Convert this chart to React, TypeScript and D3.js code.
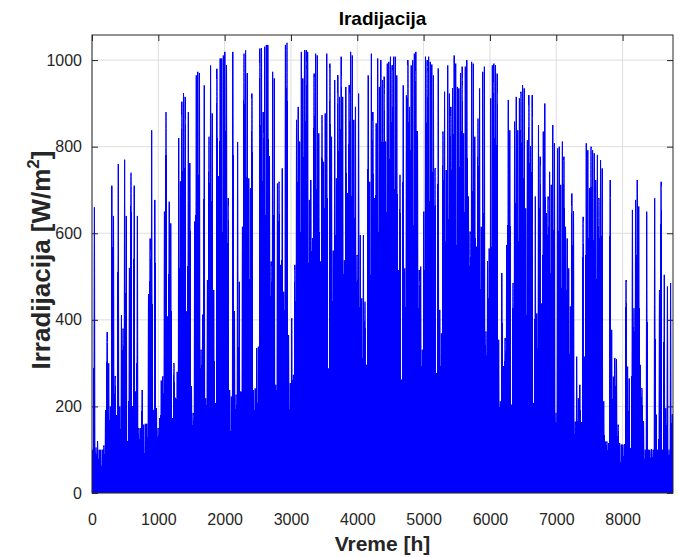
import React, { useEffect, useRef } from 'react';
import * as d3 from 'd3';

// daily peak irradiance [W/m2], one value per day (365 days)
const peaksJanFeb: number[] = [
  100, 660, 105, 120, 100, 100, 100, 110, 190, 372, 300, 200, 710, 640, 270, 180, 760, 200, 410, 380,
  770, 640, 120, 520, 740, 200, 710, 235, 640,
  150, 150, 238, 158, 160, 160, 458, 588, 838, 192, 677, 196, 150, 173, 260, 270, 650, 880, 408, 673,
  623, 173, 300, 220, 280, 820, 720, 904, 923, 915, 420,
];
const peaksMarApr: number[] = [
  880, 762, 246, 185, 627, 965, 973, 970, 331, 412, 942, 219, 492, 823, 988, 877, 469, 208, 980, 731,
  1004, 1004, 1011, 1019, 988, 681, 238, 223, 1019, 420,
  227, 811, 488, 235, 615, 1015, 1023, 970, 727, 704, 923, 238, 242, 335, 338, 1027, 1027, 880, 1031, 1035,
  1035, 777, 535, 973, 958, 250, 715, 719, 527, 750, 465,
];
const peaksMayJun: number[] = [
  1035, 1040, 365, 254, 404, 273, 527, 862, 892, 812, 1019, 958, 1023, 1023, 1019, 677, 723, 588, 969, 1015,
  1011, 831, 535, 873, 765, 877, 1015, 288, 992, 823, 560,
  954, 727, 965, 915, 1008, 915, 538, 938, 692, 942, 1019, 1011, 862, 892, 550, 923, 596, 450, 596, 442,
  296, 965, 719, 1015, 880, 681, 854, 1004, 938, 1000, 954,
];
const peaksJulAug: number[] = [
  962, 812, 992, 996, 1008, 988, 1008, 1008, 965, 515, 735, 262, 942, 519, 919, 1000, 892, 988, 1000, 1015,
  1019, 835, 515, 523, 331, 650, 1008, 1000, 1008, 996, 990,
  965, 750, 277, 981, 423, 369, 835, 927, 746, 988, 923, 892, 935, 1011, 992, 938, 935, 969, 985, 831,
  985, 1000, 685, 604, 996, 992, 823, 569, 865, 935, 615,
];
const peaksSepOct: number[] = [
  973, 985, 373, 535, 565, 912, 988, 992, 988, 969, 354, 212, 508, 292, 358, 573, 908, 838, 204, 485,
  858, 915, 838, 912, 927, 942, 935, 658, 815, 919, 800,
  919, 208, 685, 415, 850, 777, 438, 835, 900, 646, 685, 742, 712, 850, 808, 185, 796, 800, 712, 812,
  777, 615, 588, 519, 431, 692, 650, 165, 315, 219, 250,
];
const peaksNovDec: number[] = [
  162, 638, 315, 808, 792, 704, 800, 792, 785, 723, 781, 681, 769, 750, 212, 119, 119, 115, 723, 377,
  269, 312, 308, 158, 115, 112, 112, 112, 492, 292, 265,
  104, 654, 427, 677, 723, 662, 296, 242, 165, 100, 650, 100, 100, 100, 100, 681, 181, 100, 469, 719,
  100, 504, 196, 477, 100, 485, 181,
];

const xTicks = [0, 1000, 2000, 3000, 4000, 5000, 6000, 7000, 8000];
const yTicks = [0, 200, 400, 600, 800, 1000];

const axisColor = '#262626';

export default function App() {
  const ref = useRef<SVGSVGElement>(null);

  useEffect(() => {
    document.body.style.margin = '0';
    const root = d3.select(ref.current);
    root.selectAll('*').remove();

    const margin = { top: 35, right: 6, bottom: 64, left: 92 };
    const width = 679 - margin.left - margin.right;
    const height = 557 - margin.top - margin.bottom;

    const peaks = [...peaksJanFeb, ...peaksMarApr, ...peaksMayJun, ...peaksJulAug, ...peaksSepOct, ...peaksNovDec];
    // one hump per day, peak at noon
    const points: [number, number][] = [];
    peaks.forEach((p, d) => {
      points.push([d * 24 + 2, 0], [d * 24 + 12, p], [d * 24 + 22, 0]);
    });

    const x = d3.scaleLinear().domain([0, 8760]).range([0, width]);
    const y = d3.scaleLinear().domain([0, 1058]).range([height, 0]);

    const svg = root.append('g').attr('transform', `translate(${margin.left},${margin.top})`);

    svg.append('rect').attr('width', width).attr('height', height).attr('fill', '#fff');

    // grid
    svg.append('g').selectAll('line').data(xTicks).enter().append('line')
      .attr('x1', d => x(d)).attr('x2', d => x(d)).attr('y1', 0).attr('y2', height)
      .attr('stroke', '#dedede').attr('stroke-width', 1);
    svg.append('g').selectAll('line').data(yTicks).enter().append('line')
      .attr('x1', 0).attr('x2', width).attr('y1', d => y(d)).attr('y2', d => y(d))
      .attr('stroke', '#dedede').attr('stroke-width', 1);

    const fontFamily = "'Liberation Sans', Arial, Helvetica, sans-serif";

    const styleAxis = (g: any) => {
      g.select('.domain').remove();
      g.selectAll('line').attr('stroke', axisColor);
      g.selectAll('text').attr('fill', axisColor).style('font-family', fontFamily).style('font-size', '16px');
    };

    const fmt = d3.format('d');

    svg.append('g').attr('transform', `translate(0,${height})`)
      .call(d3.axisBottom(x).tickValues(xTicks).tickFormat(d => fmt(+d)).tickSizeInner(-6).tickSizeOuter(0).tickPadding(21))
      .call(styleAxis);
    svg.append('g')
      .call(d3.axisLeft(y).tickValues(yTicks).tickFormat(d => fmt(+d)).tickSizeInner(-6).tickSizeOuter(0).tickPadding(10))
      .call(styleAxis);
    svg.append('g')
      .call(d3.axisTop(x).tickValues(xTicks).tickFormat(() => '').tickSizeInner(-6).tickSizeOuter(0))
      .call(styleAxis);
    svg.append('g').attr('transform', `translate(${width},0)`)
      .call(d3.axisRight(y).tickValues(yTicks).tickFormat(() => '').tickSizeInner(-6).tickSizeOuter(0))
      .call(styleAxis);

    svg.append('clipPath').attr('id', 'plot-clip')
      .append('rect').attr('width', width).attr('height', height);

    const line = d3.line<[number, number]>()
      .x(d => x(d[0]))
      .y(d => y(d[1]))
      .curve(d3.curveMonotoneX);

    const plot = svg.append('g').attr('clip-path', 'url(#plot-clip)');

    // solid body (no anti-aliasing so the overlapping days stay solid)
    plot.append('path')
      .datum(points)
      .attr('shape-rendering', 'crispEdges')
      .attr('fill', '#0000ff')
      .attr('stroke', '#0000ff')
      .attr('stroke-width', 1)
      .attr('d', line);

    // thin spikes on top
    plot.append('path')
      .datum(points)
      .attr('fill', 'none')
      .attr('stroke', '#0000ff')
      .attr('stroke-width', 1)
      .attr('d', line);

    // box
    svg.append('rect').attr('width', width).attr('height', height)
      .attr('fill', 'none').attr('stroke', axisColor).attr('stroke-width', 1);

    // title and labels
    root.append('text')
      .attr('x', margin.left + width / 2).attr('y', 25)
      .attr('text-anchor', 'middle')
      .style('font-family', fontFamily).style('font-size', '19px').style('font-weight', 'bold')
      .attr('fill', '#000')
      .text('Iradijacija');

    root.append('text')
      .attr('x', margin.left + width / 2).attr('y', 551)
      .attr('text-anchor', 'middle')
      .style('font-family', fontFamily).style('font-size', '21px').style('font-weight', 'bold')
      .attr('fill', axisColor)
      .text('Vreme [h]');

    const yl = root.append('text')
      .attr('transform', `translate(50,260) rotate(-90)`)
      .attr('text-anchor', 'middle')
      .style('font-family', fontFamily).style('font-size', '26px').style('font-weight', 'bold')
      .attr('fill', axisColor);
    yl.append('tspan').text('Irradijacija [W/m');
    yl.append('tspan').attr('dy', -11).style('font-size', '17px').text('2');
    yl.append('tspan').attr('dy', 11).text(']');
  }, []);

  return <svg ref={ref} width={679} height={557} style={{ display: 'block' }} />;
}
